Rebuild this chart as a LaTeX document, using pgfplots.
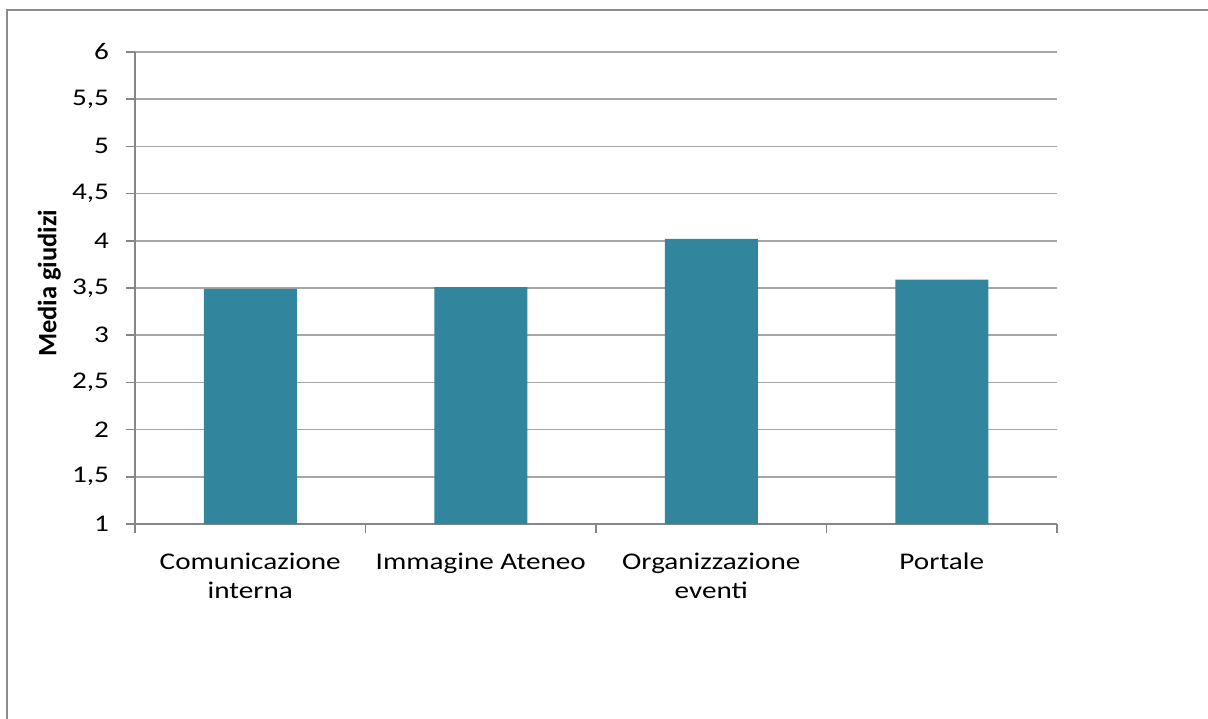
\documentclass[border=0pt]{standalone}
\usepackage{pgfplots}
\pgfplotsset{compat=1.18}
\usepackage{fontspec}
\setmainfont[FakeStretch=1.22]{Carlito}
\newfontfamily\ylabfont{Carlito}

\definecolor{barteal}{HTML}{31859C}
\definecolor{gridgray}{HTML}{A6A6A6}
\definecolor{axisgray}{HTML}{868686}
\definecolor{framegray}{HTML}{8C8C8C}

\begin{document}
\begin{tikzpicture}[x=1bp,y=1bp]
\useasboundingbox (0,0) rectangle (604,359);
% outer chart frame (only top and left visible)
\draw[framegray, line width=0.9bp] (3.5,-5) -- (3.5,354) -- (615,354);

\begin{axis}[
    at={(67.5bp,97bp)},
    anchor=south west,
    scale only axis,
    width=461bp,
    height=236bp,
    xmin=0, xmax=4,
    ymin=1, ymax=6,
    axis x line*=bottom,
    axis y line*=left,
    axis line style={axisgray, line width=1bp},
    xtick={0,1,2,3,4},
    xticklabels={},
    extra x ticks={0.5,1.5,2.5,3.5},
    extra x tick labels={Comunicazione\\interna, Immagine Ateneo, Organizzazione\\eventi, Portale},
    extra x tick style={major tick length=0pt, xticklabel style={align=center, font=\fontsize{12}{14.5}\selectfont, yshift=-11bp}},
    ytick={1,1.5,...,6},
    /pgf/number format/use comma,
    /pgf/number format/fixed,
    /pgf/number format/assume math mode=true,
    yticklabel style={font=\fontsize{12}{14.5}\selectfont, xshift=-5bp},
    tick align=outside,
    major tick length=4.5bp,
    tick style={axisgray, line width=0.8bp},
    ymajorgrids=true,
    grid style={gridgray, line width=0.8bp},
    ylabel={Media giudizi},
    ylabel style={at={(axis description cs:-0.093,0.51)}, anchor=center, font=\ylabfont\bfseries\fontsize{13.3}{15}\selectfont},
    ybar,
    bar width=46.5bp,
]
\addplot[fill=barteal, draw=none] coordinates {
    (0.5,3.49)
    (1.5,3.51)
    (2.5,4.02)
    (3.5,3.59)
};
\end{axis}
\end{tikzpicture}
\end{document}
